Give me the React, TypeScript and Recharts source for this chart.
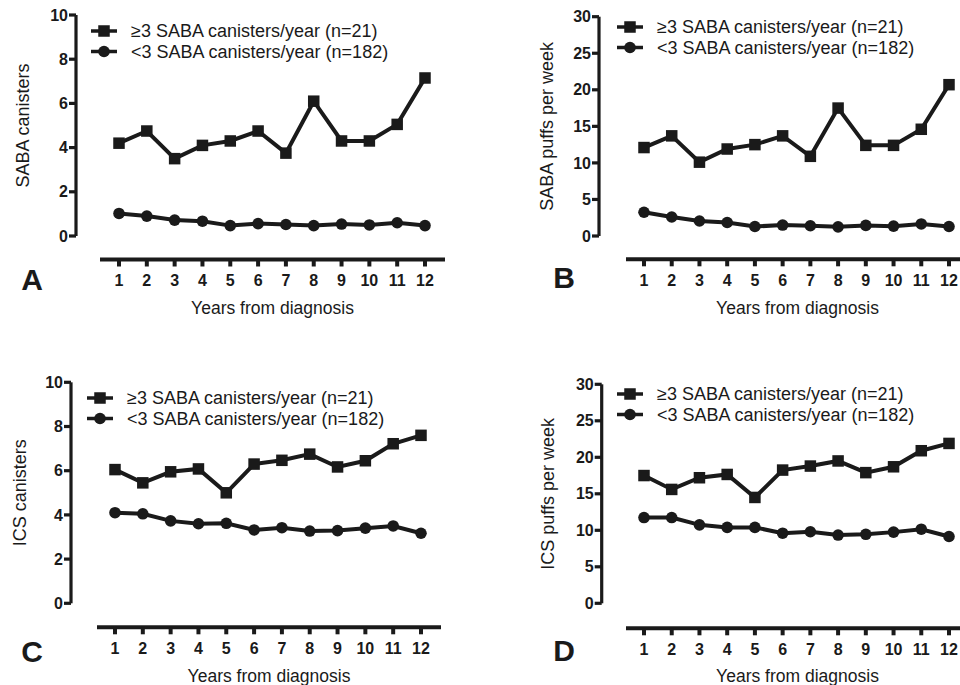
import React from 'react';
import { LineChart, Line, XAxis, YAxis, Legend } from 'recharts';

// ---------- data ----------
const years = [1, 2, 3, 4, 5, 6, 7, 8, 9, 10, 11, 12];
const seriesNames = ['≥3 SABA canisters/year (n=21)', '<3 SABA canisters/year (n=182)'];
const seriesKeys = ['high', 'low'];

const sabaCanistersHigh = [4.2, 4.75, 3.5, 4.1, 4.3, 4.75, 3.75, 6.1, 4.3, 4.3, 5.05, 7.15];
const sabaCanistersLow = [1.02, 0.9, 0.72, 0.67, 0.47, 0.56, 0.52, 0.47, 0.54, 0.5, 0.6, 0.47];

const sabaPuffsHigh = [12.1, 13.7, 10.1, 11.9, 12.5, 13.7, 10.9, 17.5, 12.4, 12.4, 14.6, 20.7];
const sabaPuffsLow = [3.25, 2.6, 2.05, 1.85, 1.3, 1.5, 1.4, 1.25, 1.45, 1.35, 1.65, 1.3];

const icsCanistersHigh = [6.05, 5.45, 5.95, 6.08, 5.0, 6.3, 6.47, 6.75, 6.17, 6.45, 7.22, 7.6];
const icsCanistersLow = [4.1, 4.05, 3.73, 3.6, 3.62, 3.32, 3.42, 3.27, 3.29, 3.4, 3.5, 3.17];

const icsPuffsHigh = [17.5, 15.6, 17.2, 17.65, 14.5, 18.25, 18.8, 19.5, 17.9, 18.7, 20.9, 21.9];
const icsPuffsLow = [11.75, 11.75, 10.75, 10.4, 10.4, 9.6, 9.8, 9.35, 9.45, 9.75, 10.15, 9.15];

const yTicksCanisters = [0, 2, 4, 6, 8, 10];
const yTicksPuffs = [0, 5, 10, 15, 20, 25, 30];

const panelLetters = ['A', 'B', 'C', 'D'];
const yLabels = ['SABA canisters', 'SABA puffs per week', 'ICS canisters', 'ICS puffs per week'];
const xTitle = 'Years from diagnosis';

// ---------- layout / style ----------
const INK = '#1a1a1a';
const CW = 1000;
const CH = 685;
const LINE_W = 4;
const FONT = '"Liberation Sans", Arial, Helvetica, sans-serif';

const layouts = [
  { yAxisX: 76, yTop: 15, yBottom: 236, xAxisY: 259.5, xLineStart: 100, tick1: 119, tick12: 425, xEnd: 445, titleBaseline: 314, yLabelX: 23, legendLeft: 91, legendTop: 19.7, letterX: 32, letterY: 290 },
  { yAxisX: 599, yTop: 16.7, yBottom: 236, xAxisY: 259.3, xLineStart: 626, tick1: 644, tick12: 949, xEnd: 969, titleBaseline: 314, yLabelX: 547, legendLeft: 617, legendTop: 16.3, letterX: 564, letterY: 287.5 },
  { yAxisX: 71, yTop: 382.3, yBottom: 603.3, xAxisY: 627.3, xLineStart: 97, tick1: 115, tick12: 421, xEnd: 441, titleBaseline: 681.7, yLabelX: 20, legendLeft: 87, legendTop: 386.7, letterX: 32, letterY: 662 },
  { yAxisX: 601.7, yTop: 384.3, yBottom: 603.3, xAxisY: 628.3, xLineStart: 626, tick1: 644, tick12: 949, xEnd: 969, titleBaseline: 682, yLabelX: 548, legendLeft: 617, legendTop: 383.3, letterX: 564, letterY: 661 },
];

const panelData = [
  { high: sabaCanistersHigh, low: sabaCanistersLow, yMax: 10, yTicks: yTicksCanisters },
  { high: sabaPuffsHigh, low: sabaPuffsLow, yMax: 30, yTicks: yTicksPuffs },
  { high: icsCanistersHigh, low: icsCanistersLow, yMax: 10, yTicks: yTicksCanisters },
  { high: icsPuffsHigh, low: icsPuffsLow, yMax: 30, yTicks: yTicksPuffs },
];

const SQ = 11.5;
const CR = 5.8;

const SquareDot = (props: any) => {
  const { cx, cy, index } = props;
  if (cx == null || cy == null) return <g key={`s-${index}`} />;
  return <rect key={`s-${index}`} x={cx - SQ / 2} y={cy - SQ / 2} width={SQ} height={SQ} fill={INK} />;
};

const CircleDot = (props: any) => {
  const { cx, cy, index } = props;
  if (cx == null || cy == null) return <g key={`c-${index}`} />;
  return <circle key={`c-${index}`} cx={cx} cy={cy} r={CR} fill={INK} />;
};

const renderLegend = (props: any) => {
  const payload = [...(props.payload || [])].sort(
    (a: any, b: any) => seriesKeys.indexOf(a.dataKey) - seriesKeys.indexOf(b.dataKey)
  );
  return (
    <svg width={400} height={44} style={{ display: 'block', overflow: 'visible' }}>
      {payload.map((e: any, i: number) => {
        const cy = 11 + i * 20.5;
        return (
          <g key={i}>
            <line x1={0} x2={26} y1={cy} y2={cy} stroke={INK} strokeWidth={3.5} />
            {e.dataKey === 'high' ? (
              <rect x={13 - SQ / 2} y={cy - SQ / 2} width={SQ} height={SQ} fill={INK} />
            ) : (
              <circle cx={13} cy={cy} r={CR} fill={INK} />
            )}
            <text
              x={40}
              y={cy}
              dy="0.355em"
              style={{ fontSize: '18px', fontFamily: FONT }}
              fill={INK}
            >
              {e.value}
            </text>
          </g>
        );
      })}
    </svg>
  );
};

function Panel({ idx }: { idx: number }) {
  const L = layouts[idx];
  const D = panelData[idx];
  const rows = years.map((y, i) => ({ year: y, high: D.high[i], low: D.low[i] }));
  return (
    <>
      <div style={{ position: 'absolute', left: 0, top: 0 }}>
        <LineChart
          width={CW}
          height={CH}
          data={rows}
          margin={{ top: L.yTop, bottom: CH - L.yBottom, left: 0, right: CW - L.xEnd }}
        >
          <XAxis
            dataKey="year"
            type="number"
            domain={[1, 12]}
            ticks={years}
            padding={{ left: L.tick1 - L.yAxisX, right: L.xEnd - L.tick12 }}
            hide
          />
          <YAxis
            width={L.yAxisX}
            domain={[0, D.yMax]}
            ticks={D.yTicks}
            interval={0}
            tickSize={7}
            tickMargin={1}
            axisLine={{ stroke: INK, strokeWidth: 3.2 }}
            tickLine={{ stroke: INK, strokeWidth: 3.2 }}
            tick={{ fill: INK, fontSize: 16, fontWeight: 700 }}
            label={{
              value: yLabels[idx],
              angle: -90,
              position: 'insideLeft',
              offset: L.yLabelX,
              style: { textAnchor: 'middle', fontSize: 18, fill: INK },
            }}
          />
          <Line
            type="linear"
            dataKey="high"
            name={seriesNames[0]}
            stroke={INK}
            strokeWidth={LINE_W}
            dot={SquareDot}
            activeDot={false}
            isAnimationActive={false}
          />
          <Line
            type="linear"
            dataKey="low"
            name={seriesNames[1]}
            stroke={INK}
            strokeWidth={LINE_W}
            dot={CircleDot}
            activeDot={false}
            isAnimationActive={false}
          />
          <Legend
            layout="horizontal"
            verticalAlign="middle"
            align="center"
            content={renderLegend}
            wrapperStyle={{ position: 'absolute', left: L.legendLeft, top: L.legendTop, width: 400, height: 44 }}
          />
        </LineChart>
      </div>
      <div style={{ position: 'absolute', left: 0, top: 0 }}>
        <LineChart
          width={CW}
          height={CH}
          data={rows}
          margin={{ top: L.xAxisY - 10, bottom: CH - L.titleBaseline, left: L.xLineStart, right: CW - L.xEnd }}
        >
          <YAxis hide domain={[0, 1]} />
          <XAxis
            dataKey="year"
            type="number"
            domain={[1, 12]}
            ticks={years}
            interval={0}
            padding={{ left: L.tick1 - L.xLineStart, right: L.xEnd - L.tick12 }}
            height={L.titleBaseline - L.xAxisY}
            tickSize={7}
            tickMargin={8}
            axisLine={{ stroke: INK, strokeWidth: 4 }}
            tickLine={{ stroke: INK, strokeWidth: 4 }}
            tick={{ fill: INK, fontSize: 16, fontWeight: 700 }}
            label={{
              value: xTitle,
              position: 'insideBottom',
              offset: 0,
              style: { fontSize: 17.5, fill: INK },
            }}
          />
        </LineChart>
      </div>
    </>
  );
}

export default function App() {
  return (
    <div
      style={{
        position: 'absolute',
        left: 0,
        top: 0,
        width: 960,
        height: 685,
        overflow: 'hidden',
        background: '#ffffff',
        fontFamily: FONT,
      }}
    >
      {layouts.map((_, i) => (
        <Panel key={i} idx={i} />
      ))}
      <svg width={960} height={685} style={{ position: 'absolute', left: 0, top: 0, pointerEvents: 'none' }}>
        {layouts.map((L, i) => (
          <text key={i} x={L.letterX} y={L.letterY} textAnchor="middle" fontSize={30} fontWeight={700} fill={INK}>
            {panelLetters[i]}
          </text>
        ))}
      </svg>
    </div>
  );
}
